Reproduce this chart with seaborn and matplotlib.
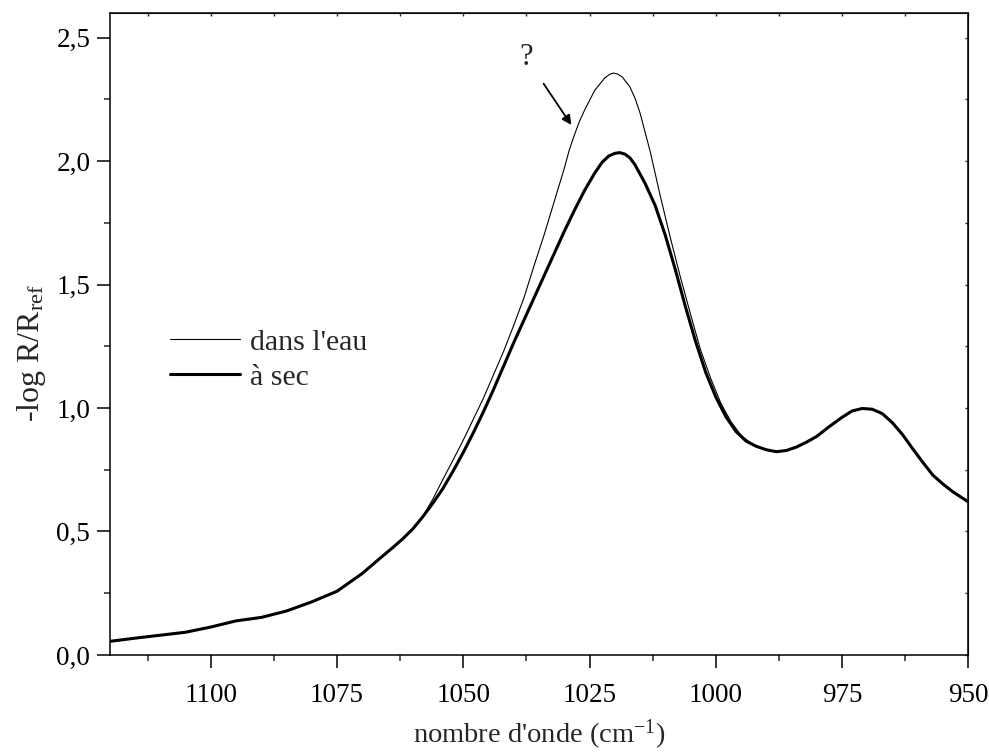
import numpy as np
import pandas as pd
import matplotlib
matplotlib.use('Agg')
import matplotlib.pyplot as plt
import seaborn as sns
from matplotlib.ticker import MultipleLocator, FixedLocator, FixedFormatter

# nombre d'onde (cm-1) et -log R/Rref
x_sec = [1120, 1115, 1110, 1105, 1100, 1095, 1090, 1085, 1080, 1075, 1070, 1066,
         1064, 1062, 1060, 1058, 1056, 1054, 1052, 1050, 1048, 1046, 1044, 1042, 1040,
         1038, 1036, 1034, 1032, 1030, 1028, 1026, 1024, 1022.5, 1021.2, 1020, 1019,
         1018, 1017, 1016, 1014, 1012, 1010, 1008, 1006, 1004, 1002, 1000, 998, 996,
         994, 992, 990, 988, 986, 984, 982, 980, 977.5, 975, 973, 971, 969, 967, 965,
         963, 961, 959, 957, 955, 953, 950]
y_sec = [0.055, 0.068, 0.080, 0.092, 0.113, 0.138, 0.152, 0.178, 0.215, 0.258, 0.330, 0.400,
         0.434, 0.470, 0.510, 0.560, 0.615, 0.675, 0.745, 0.820, 0.900, 0.985, 1.075, 1.170, 1.265,
         1.355, 1.445, 1.535, 1.625, 1.715, 1.800, 1.880, 1.950, 1.995, 2.020, 2.031, 2.034,
         2.028, 2.013, 1.985, 1.910, 1.820, 1.700, 1.560, 1.410, 1.270, 1.145, 1.045, 0.965, 0.905,
         0.866, 0.845, 0.831, 0.823, 0.828, 0.842, 0.862, 0.885, 0.925, 0.962, 0.988, 0.998, 0.995, 0.977, 0.940,
         0.892, 0.835, 0.780, 0.728, 0.692, 0.660, 0.620]

x_eau = [1120, 1115, 1110, 1105, 1100, 1095, 1090, 1085, 1080, 1075, 1070, 1066,
         1064, 1062, 1060, 1058, 1056, 1054, 1052, 1050, 1048, 1046, 1044, 1042, 1040,
         1038, 1036, 1034, 1032, 1030, 1029, 1028, 1027, 1026, 1024, 1022, 1021, 1020.3, 1019.5,
         1018.5, 1017, 1016, 1015, 1013, 1011, 1009, 1007, 1005, 1003, 1001, 999, 997,
         995, 993, 991, 990, 988, 986, 984, 982, 980, 977.5, 975, 973, 971, 969, 967, 965,
         963, 961, 959, 957, 955, 953, 950]
y_eau = [0.055, 0.068, 0.080, 0.092, 0.113, 0.138, 0.152, 0.178, 0.215, 0.258, 0.330, 0.400,
         0.434, 0.471, 0.513, 0.562, 0.632, 0.712, 0.790, 0.870, 0.955, 1.040, 1.135, 1.230, 1.335,
         1.445, 1.575, 1.700, 1.835, 1.970, 2.045, 2.105, 2.160, 2.205, 2.285, 2.336, 2.351, 2.356, 2.353,
         2.340, 2.300, 2.255, 2.195, 2.040, 1.860, 1.690, 1.530, 1.380, 1.235, 1.120, 1.020, 0.945,
         0.890, 0.857, 0.838, 0.831, 0.823, 0.828, 0.842, 0.862, 0.885, 0.925, 0.962, 0.988, 0.998, 0.995, 0.977, 0.940,
         0.892, 0.835, 0.780, 0.728, 0.692, 0.660, 0.620]

x_ticks = [1100, 1075, 1050, 1025, 1000, 975, 950]
y_ticks = [0.0, 0.5, 1.0, 1.5, 2.0, 2.5]
y_ticklabels = ['0,0', '0,5', '1,0', '1,5', '2,0', '2,5']

sns.set_style('ticks')
plt.rcParams['font.family'] = ['Liberation Serif', 'DejaVu Serif']
plt.rcParams['mathtext.fontset'] = 'custom'
plt.rcParams['mathtext.rm'] = 'Liberation Serif'
plt.rcParams['mathtext.it'] = 'Liberation Serif:italic'

fig = plt.figure(figsize=(9.89, 7.55), dpi=100)
ax = fig.add_axes([0.111, 0.1325, 0.868, 0.8505])

df_eau = pd.DataFrame({'x': x_eau, 'y': y_eau})
df_sec = pd.DataFrame({'x': x_sec, 'y': y_sec})
sns.lineplot(data=df_eau, x='x', y='y', color='black', linewidth=0.8, label="dans l'eau", ax=ax)
sns.lineplot(data=df_sec, x='x', y='y', color='black', linewidth=2.2, label='à sec', ax=ax)

ax.set_xlim(1120, 950)
ax.set_ylim(0, 2.6)
ax.xaxis.set_major_locator(FixedLocator(x_ticks))
ax.xaxis.set_minor_locator(MultipleLocator(12.5))
ax.yaxis.set_major_locator(FixedLocator(y_ticks))
ax.yaxis.set_major_formatter(FixedFormatter(y_ticklabels))
ax.yaxis.set_minor_locator(MultipleLocator(0.25))

for s in ax.spines.values():
    s.set_linewidth(1.1)
    s.set_color('black')
ax.tick_params(which='major', direction='out', length=9.5, width=1.1, labelsize=19.5, colors='black')
ax.tick_params(which='minor', direction='out', length=4.5, width=1.1)
ax.tick_params(axis='x', which='major', pad=11)
ax.tick_params(axis='y', which='major', pad=4.5)

# petites graduations internes en haut et a droite
top = ax.secondary_xaxis('top')
top.xaxis.set_major_locator(FixedLocator(x_ticks))
top.xaxis.set_minor_locator(MultipleLocator(12.5))
top.tick_params(which='both', direction='in', length=2, width=1, labeltop=False)
right = ax.secondary_yaxis('right')
right.yaxis.set_major_locator(FixedLocator(y_ticks))
right.yaxis.set_minor_locator(MultipleLocator(0.25))
right.tick_params(which='both', direction='in', length=2, width=1, labelright=False)

ax.set_xlabel("nombre d'onde (cm$^{-1}$)", fontsize=20.5, labelpad=7)
ax.set_ylabel('-log R/R$_{\\mathrm{ref}}$', fontsize=23)
ax.yaxis.set_label_coords(-0.072, 0.47)

ax.annotate('?', xy=(1028.6, 2.146), xytext=(1037.6, 2.42), fontsize=22,
            ha='center', va='center',
            arrowprops=dict(arrowstyle='-|>', color='black', lw=1.3,
                            mutation_scale=14, shrinkA=10, shrinkB=0))

ax.legend(loc='upper left', bbox_to_anchor=(0.07, 0.508), frameon=False,
          fontsize=21.5, handlelength=2.34, handletextpad=0.33, labelspacing=0.27,
          borderpad=0, borderaxespad=0)

fig.savefig('out.png', dpi=100)
